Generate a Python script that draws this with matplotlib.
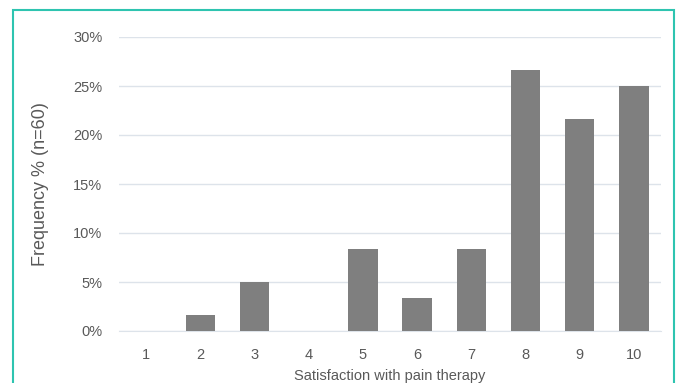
import numpy as np
import matplotlib
matplotlib.use('Agg')
import matplotlib.pyplot as plt
from matplotlib.patches import Rectangle
from matplotlib.ticker import FuncFormatter

# satisfaction scores and share of patients (n=60)
scores = ['1', '2', '3', '4', '5', '6', '7', '8', '9', '10']
freq = [0.0, 1/60, 3/60, 0.0, 5/60, 2/60, 5/60, 16/60, 13/60, 15/60]
yticks = [0, 0.05, 0.10, 0.15, 0.20, 0.25, 0.30]

plt.rcParams['font.family'] = ['Liberation Sans', 'DejaVu Sans']
txt = '#595959'

fig = plt.figure(figsize=(6.8, 3.83), dpi=100)
ax = fig.add_axes([119/680, 1-331/383, 542/680, (331-37)/383])

x = np.arange(1, len(scores)+1)
ax.bar(x, freq, width=0.54, color='#7f7f7f', zorder=3)

ax.set_xlim(0.5, len(scores)+0.5)
ax.set_ylim(0, 0.30)
ax.set_yticks(yticks)
ax.yaxis.set_major_formatter(FuncFormatter(lambda v, p: '%d%%' % round(v*100)))
ax.set_xticks(x)
ax.set_xticklabels(scores)
ax.grid(axis='y', color='#dde3ea', linewidth=1, zorder=0)
for s in ['top', 'right', 'left']:
    ax.spines[s].set_visible(False)
ax.spines['bottom'].set_color('#dde3ea')
ax.tick_params(axis='both', length=0, colors=txt, labelsize=10.5)
ax.tick_params(axis='y', pad=12)
ax.tick_params(axis='x', pad=12)

ax.set_xlabel('Satisfaction with pain therapy', color=txt, fontsize=10.5)
ax.set_ylabel('Frequency % (n=60)', color=txt, fontsize=13)
ax.xaxis.set_label_coords(0.5, -0.128)
ax.yaxis.set_label_coords(-0.130, 0.5)

# teal frame around the chart
fig.patches.append(Rectangle((13/680, -0.05), (674-13)/680, 1.05-10/383,
                             transform=fig.transFigure, fill=False,
                             edgecolor='#2ec4b0', linewidth=1.5))

fig.savefig('out.png', dpi=100)
